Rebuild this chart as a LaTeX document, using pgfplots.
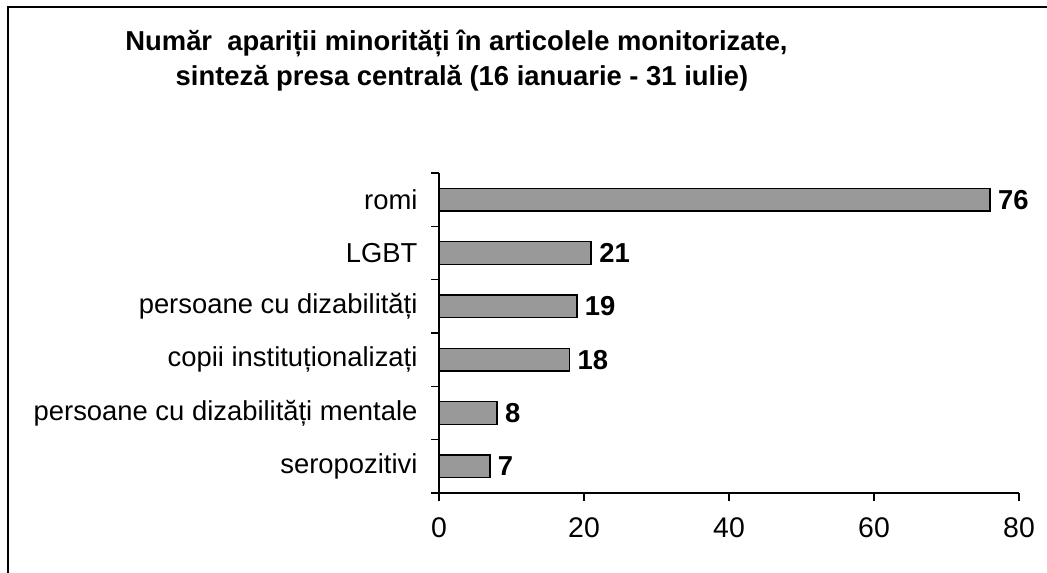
\documentclass[border=0pt]{standalone}
\usepackage{fontspec}
\setmainfont{Liberation Sans}
\usepackage{pgfplots}
\pgfplotsset{compat=1.18}
\begin{document}
\begin{tikzpicture}[x=1bp,y=1bp]
\path[use as bounding box] (0,0) rectangle (1047,573);
\draw[line width=2bp] (7.5,0) -- (7.5,565.5) -- (1047,565.5);
\node[anchor=base, font=\bfseries\fontsize{27.5}{30}\selectfont, inner sep=0] at (456.5,522) {Număr\ \ apariții minorități în articolele monitorizate,};
\node[anchor=base, font=\bfseries\fontsize{27.5}{30}\selectfont, inner sep=0] at (462,487) {sinteză presa centrală (16 ianuarie - 31 iulie)};
\begin{axis}[
  at={(439bp,80bp)}, anchor=south west,
  scale only axis, width=580bp, height=320bp,
  xmin=0, xmax=80, ymin=-0.5, ymax=5.5,
  xbar, bar width=0.425,
  axis lines*=left,
  axis line style={line width=1.3bp, black},
  xtick={0,20,40,60,80},
  ytick={-0.5,0.5,1.5,2.5,3.5,4.5,5.5},
  yticklabels={},
  extra y ticks={0,1,2,3,4,5},
  extra y tick labels={seropozitivi, persoane cu dizabilități mentale, copii instituționalizați, persoane cu dizabilități, LGBT, romi},
  extra y tick style={tick style={draw=none}, yticklabel style={font=\fontsize{27.5}{30}\selectfont, xshift=-10bp}},
  tick align=outside,
  major tick length=8bp,
  every tick/.style={black, line width=1.3bp},
  /pgf/number format/assume math mode=true,
  xticklabel style={font=\fontsize{28.5}{30}\selectfont, yshift=-13bp},
  nodes near coords,
  nodes near coords style={font=\bfseries\fontsize{27.5}{30}\selectfont, anchor=west, xshift=4bp},
  clip=false,
]
\addplot[fill={rgb,255:red,153;green,153;blue,153}, draw=black, line width=1.6bp] coordinates {
(7,0) (8,1) (18,2) (19,3) (21,4) (76,5)};
\end{axis}
\end{tikzpicture}
\end{document}
